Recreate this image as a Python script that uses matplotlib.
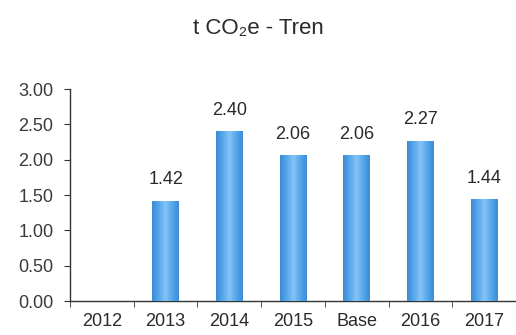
import numpy as np
import matplotlib
matplotlib.use("Agg")
import matplotlib.pyplot as plt
from matplotlib.colors import LinearSegmentedColormap

plt.rcParams['font.family'] = ['Liberation Sans', 'DejaVu Sans']

categories = ["2012", "2013", "2014", "2015", "Base", "2016", "2017"]
values = [0.00, 1.42, 2.40, 2.06, 2.06, 2.27, 1.44]
labels = ["", "1.42", "2.40", "2.06", "2.06", "2.27", "1.44"]
yticks = [0.0, 0.5, 1.0, 1.5, 2.0, 2.5, 3.0]

fig = plt.figure(figsize=(5.16, 3.35), dpi=100)
ax = fig.add_axes([70 / 516, 34 / 335, 1 - 70 / 516, 212 / 335])

x = np.arange(len(categories))
bars = ax.bar(x, values, width=0.42, color="#55a5ea", zorder=2)

# cylinder shading: darker edges, lighter centre
cyl = LinearSegmentedColormap.from_list(
    "cyl", ["#3d8bd4", "#55a7ee", "#86c4f5", "#55a7ee", "#3d8bd4"])
grad = np.linspace(0, 1, 64).reshape(1, -1)
for b in bars:
    h = b.get_height()
    if h <= 0:
        continue
    x0, w = b.get_x(), b.get_width()
    im = ax.imshow(grad, cmap=cyl, aspect="auto",
                   extent=[x0, x0 + w, 0, h], zorder=3)
    im.set_clip_path(b)

for xi, v, lab in zip(x, values, labels):
    if lab:
        ax.annotate(lab, (xi, v), xytext=(0, 9), textcoords="offset points",
                    ha="center", va="bottom", fontsize=13, color="#2a2a2a")

ax.set_xlim(-0.46, 6.4)
ax.set_ylim(0, 3.0)
ax.set_yticks(yticks)
ax.set_yticklabels([f"{t:.2f}" for t in yticks], fontsize=13, color="#3a3a3a")
ax.set_xticks(x)
ax.set_xticklabels(categories, fontsize=13, color="#2a2a2a")
ax.set_xticks(np.arange(-0.5, len(categories), 1), minor=True)
ax.tick_params(axis="x", which="major", length=0, pad=9)
ax.tick_params(axis="x", which="minor", length=4, color="#333333")
ax.tick_params(axis="y", length=4, color="#333333", pad=8)

for s in ["top", "right"]:
    ax.spines[s].set_visible(False)
for s in ["left", "bottom"]:
    ax.spines[s].set_color("#333333")
    ax.spines[s].set_linewidth(1.0)

fig.text(0.5, 1 - 29 / 335, "t CO\u2082e - Tren", ha="center", va="center",
         fontsize=16, color="#2a2a2a")

fig.savefig("out.png", dpi=100)
